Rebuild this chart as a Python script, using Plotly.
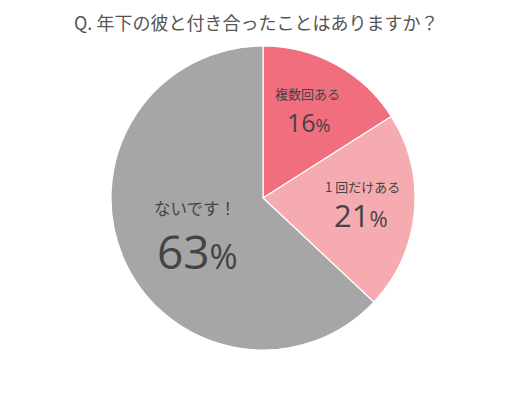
import plotly.graph_objects as go

title_text = "Q. 年下の彼と付き合ったことはありますか？"
labels = ["複数回ある", "1回だけある", "ないです！"]
values = [16, 21, 63]
colors = ["#F06E7E", "#F6ABB1", "#A6A6A6"]

W, H = 527, 394
cx, cy, r = 263, 198, 152

fig = go.Figure(go.Pie(
    labels=labels, values=values, sort=False, direction="clockwise", rotation=0,
    marker=dict(colors=colors, line=dict(color="white", width=1.2)),
    textinfo="none", hoverinfo="label+percent", showlegend=False,
    domain=dict(x=[(cx - r) / W, (cx + r) / W], y=[(H - cy - r) / H, (H - cy + r) / H]),
))

# label placement (pixel centers) and font sizes
label_pos = [(307, 93), (362, 186), (195, 208)]
label_size = [13, 13, 16.5]
pct_pos = [(308, 122), (361, 215), (197, 251)]
pct_size = [25, 31, 46]

def px(x, y):
    return x / W, 1 - y / H

ann = []
for i in range(len(labels)):
    lx, ly = px(*label_pos[i])
    ann.append(dict(x=lx, y=ly, xref="paper", yref="paper", xanchor="center", yanchor="middle",
                    text=labels[i].replace("1回", "1 回"),
                    showarrow=False, font=dict(family="Noto Sans CJK JP", size=label_size[i], color="#444444")))
    qx, qy = px(*pct_pos[i])
    ann.append(dict(x=qx, y=qy, xref="paper", yref="paper", xanchor="center", yanchor="middle",
                    text=f"{values[i]}<span style='font-size:{int(pct_size[i]*0.74)}px'>%</span>",
                    showarrow=False, font=dict(family="Open Sans", size=pct_size[i], color="#444444")))

tx, ty = px(256, 22)
ann.append(dict(x=tx, y=ty, xref="paper", yref="paper", xanchor="center", yanchor="middle",
                text=title_text, showarrow=False,
                font=dict(family="Noto Sans CJK JP", size=18, color="#555555")))

fig.update_layout(width=W, height=H, margin=dict(l=0, r=0, t=0, b=0),
                  paper_bgcolor="white", plot_bgcolor="white", annotations=ann)
fig.write_html("out.html", config={"displayModeBar": False},
               post_script="document.body.style.margin='0';")
